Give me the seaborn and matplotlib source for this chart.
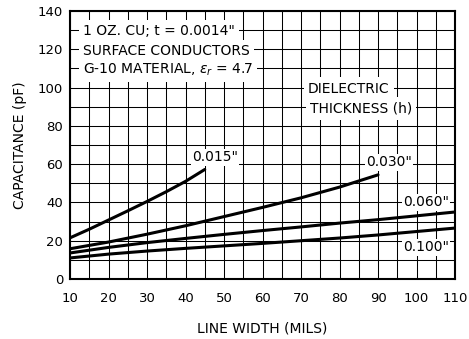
import matplotlib
matplotlib.use("Agg")
import matplotlib.pyplot as plt
import seaborn as sns
import pandas as pd

# ---- data ----
x_015 = [10, 15, 20, 25, 30, 35, 40, 45]
y_015 = [21.5, 26.0, 30.8, 35.6, 40.5, 45.6, 51.0, 57.2]

x_030 = [10, 20, 30, 40, 50, 60, 70, 80, 90]
y_030 = [15.8, 19.3, 23.4, 27.8, 32.6, 37.4, 42.4, 48.0, 54.4]

x_060 = [10, 20, 30, 40, 50, 60, 70, 80, 90, 100, 110]
y_060 = [13.6, 16.5, 19.0, 21.2, 23.3, 25.3, 27.2, 29.2, 31.0, 33.0, 35.0]

x_100 = [10, 20, 30, 40, 50, 60, 70, 80, 90, 100, 110]
y_100 = [11.0, 13.0, 14.6, 16.0, 17.3, 18.6, 20.0, 21.4, 23.0, 24.8, 26.6]

series_labels = ['0.015"', '0.030"', '0.060"', '0.100"']
x_ticks = [10, 20, 30, 40, 50, 60, 70, 80, 90, 100, 110]
y_ticks = [0, 20, 40, 60, 80, 100, 120, 140]

frames = []
for lab, xs, ys in zip(series_labels, [x_015, x_030, x_060, x_100],
                       [y_015, y_030, y_060, y_100]):
    frames.append(pd.DataFrame({"w": xs, "c": ys, "h": lab}))
df = pd.concat(frames, ignore_index=True)

sns.set_theme(style="white")
plt.rcParams["font.family"] = ["DejaVu Sans"]
plt.rcParams["mathtext.fontset"] = "dejavusans"

fig = plt.figure(figsize=(4.69, 3.39), dpi=100)
ax = fig.add_axes([70 / 469, 60 / 339, 385 / 469, 268 / 339])

sns.lineplot(data=df, x="w", y="c", hue="h",
             palette=["black"] * 4, linewidth=2.2, legend=False, ax=ax,
             zorder=4)

ax.set_xlim(10, 110)
ax.set_ylim(0, 140)
ax.set_xticks(x_ticks)
ax.set_yticks(y_ticks)
ax.set_xticks(list(range(10, 111, 5)), minor=True)
ax.set_yticks(list(range(0, 141, 10)), minor=True)
ax.grid(which="both", color="black", linewidth=0.75, zorder=1)
ax.set_axisbelow(True)
for s in ax.spines.values():
    s.set_color("black")
    s.set_linewidth(1.5)
ax.tick_params(which="both", length=0)
ax.tick_params(axis="x", pad=9, labelsize=9.5, colors="black")
ax.tick_params(axis="y", pad=5, labelsize=9.5, colors="black")

ax.set_xlabel("LINE WIDTH (MILS)", fontsize=10, labelpad=12, color="black")
ax.set_ylabel("CAPACITANCE (pF)", fontsize=10, labelpad=8, color="black")

bb = dict(facecolor="white", edgecolor="none", pad=3.0)
tkw = dict(fontsize=10, color="black", bbox=bb, zorder=3,
           va="center", ha="left")
ax.text(13.3, 129.6, '1 OZ. CU; t = 0.0014"', **tkw)
ax.text(13.3, 119.2, "SURFACE CONDUCTORS", **tkw)
ax.text(13.3, 109.2, r"G-10 MATERIAL, $\varepsilon_r$ = 4.7", **tkw)
ax.text(71.8, 99.5, "DIELECTRIC", **tkw)
ax.text(72.3, 89.0, "THICKNESS (h)", **tkw)

lkw = dict(tkw)
lkw["bbox"] = dict(facecolor="white", edgecolor="none", pad=1.0)
ax.text(41.7, 63.5, series_labels[0], **lkw)
ax.text(86.9, 60.9, series_labels[1], **lkw)
ax.text(96.5, 40.0, series_labels[2], **lkw)
ax.text(96.5, 16.5, series_labels[3], **lkw)

fig.savefig("out.png", dpi=100)
